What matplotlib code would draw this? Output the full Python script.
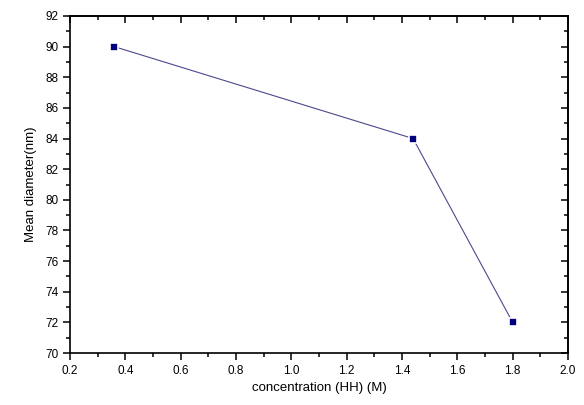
import matplotlib; matplotlib.use("Agg")
import matplotlib.pyplot as plt
from matplotlib.ticker import MultipleLocator

conc = [0.36, 1.44, 1.8]
diam = [90, 84, 72]

plt.rcParams.update({"font.family": ["Liberation Sans", "DejaVu Sans"]})

fig = plt.figure(figsize=(5.84, 4.05), dpi=100)
ax = fig.add_axes([70/584, 1-353/405, 498/584, 337/405])

ax.plot(conc, diam, "-", color="#4a4a8c", lw=0.8, zorder=2)
ax.plot(conc, diam, "s", color="#00007f", ms=6, mec="white", mew=1.2, zorder=3)

ax.set_xlim(0.2, 2.0); ax.set_ylim(70, 92)
ax.xaxis.set_major_locator(MultipleLocator(0.2)); ax.xaxis.set_minor_locator(MultipleLocator(0.1))
ax.yaxis.set_major_locator(MultipleLocator(2)); ax.yaxis.set_minor_locator(MultipleLocator(1))
ax.xaxis.set_major_formatter(plt.FuncFormatter(lambda v, p: f"{v:.1f}"))

for s in ax.spines.values(): s.set_linewidth(1.2)
ax.tick_params(which="both", width=1.1, labelsize=8.5, colors="black")
ax.tick_params(which="major", length=5, direction="out", top=False, right=False)
ax.tick_params(which="minor", length=3, direction="out", top=False, right=False)

# inward ticks on top/right
axt = ax.secondary_xaxis("top"); axr = ax.secondary_yaxis("right")
axt.xaxis.set_major_locator(MultipleLocator(0.2)); axt.xaxis.set_minor_locator(MultipleLocator(0.1))
axr.yaxis.set_major_locator(MultipleLocator(2)); axr.yaxis.set_minor_locator(MultipleLocator(1))
for a in (axt, axr):
    a.tick_params(which="major", length=5, direction="in", width=1.1, labelsize=0)
    a.tick_params(which="minor", length=3, direction="in", width=1.1)
    for s in a.spines.values(): s.set_linewidth(1.2)
axt.set_xticklabels([]); axr.set_yticklabels([])

ax.set_xlabel("concentration (HH) (M)", fontsize=9.5, labelpad=4)
ax.set_ylabel("Mean diameter(nm)", fontsize=9.5, labelpad=6)

fig.savefig("out.png", dpi=100)
